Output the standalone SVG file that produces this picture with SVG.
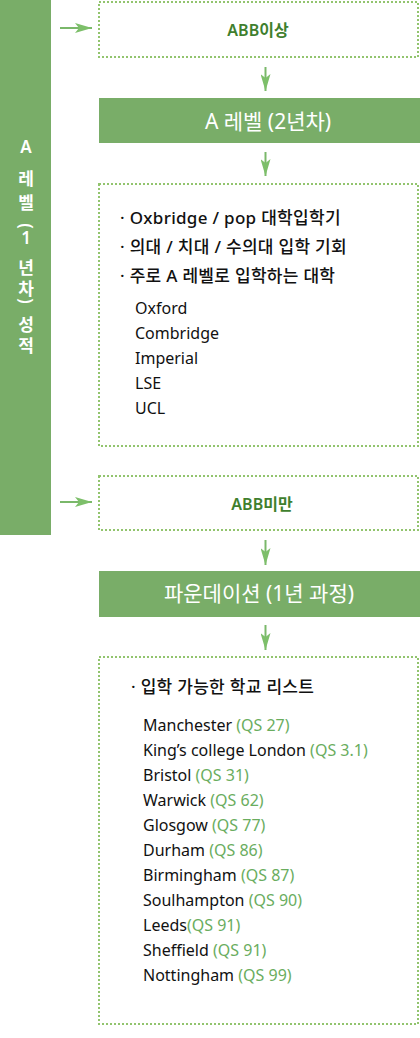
<svg xmlns="http://www.w3.org/2000/svg" width="420" height="1038" viewBox="0 0 420 1038">
<style>
.bar{fill:#79ad68}
.box{fill:#fff;stroke:#92c46e;stroke-width:2;stroke-dasharray:2 2}
.t{font-family:"Noto Sans","Noto Sans CJK KR",sans-serif}
.hd{font-size:21px;fill:#fff;text-anchor:middle}
.lab{font-size:16px;fill:#3f7f2e;text-anchor:middle;font-weight:600}
.bl{font-size:17px;fill:#111;font-weight:500;letter-spacing:0.3px}
.it{font-size:16px;fill:#111}
.qs{fill:#6aad5e}
.vt{font-size:17px;fill:#fff;text-anchor:middle;font-weight:600}
.cn{stroke:#7ab86a;stroke-width:2;fill:none}
</style>
<defs>
<marker id="ah" markerUnits="userSpaceOnUse" viewBox="0 0 17 10" refX="17" refY="5" markerWidth="17" markerHeight="10" orient="auto">
<path d="M0,0 L17,5 L0,10 L4,5 z" fill="#7dbf6a"/>
</marker>
</defs>

<g id="side">
<rect class="bar" x="0" y="0" width="51" height="535"/>
<g class="t vt" dominant-baseline="central">
<text x="26" y="146">A</text>
<text x="26" y="178">레</text>
<text x="26" y="202">벨</text>
<text transform="translate(26,226) rotate(90)">(</text>
<text x="26" y="237">1</text>
<text x="26" y="267">년</text>
<text x="26" y="288">차</text>
<text transform="translate(26,301) rotate(90)">)</text>
<text x="26" y="324">성</text>
<text x="26" y="345">적</text>
</g>
</g>

<g id="connectors">
<line class="cn" x1="60" y1="28" x2="92" y2="28" marker-end="url(#ah)"/>
<line class="cn" x1="60" y1="502" x2="92" y2="502" marker-end="url(#ah)"/>
<line class="cn" x1="265.5" y1="67" x2="265.5" y2="91" marker-end="url(#ah)"/>
<line class="cn" x1="265.5" y1="152" x2="265.5" y2="176" marker-end="url(#ah)"/>
<line class="cn" x1="265.5" y1="540" x2="265.5" y2="565" marker-end="url(#ah)"/>
<line class="cn" x1="265.5" y1="625" x2="265.5" y2="650" marker-end="url(#ah)"/>
</g>

<g id="abb-above">
<rect class="box" x="99" y="2" width="319" height="55"/>
<text class="t lab" x="258" y="36">ABB이상</text>
</g>

<g id="alevel2">
<rect class="bar" x="99" y="98" width="321" height="45"/>
<text class="t hd" x="268" y="129">A 레벨 (2년차)</text>
</g>

<g id="alevel-info">
<rect class="box" x="99" y="184" width="319" height="262"/>
<g class="t">
<text class="bl" x="120" y="224">· Oxbridge / pop 대학입학기</text>
<text class="bl" x="120" y="253">· 의대 / 치대 / 수의대 입학 기회</text>
<text class="bl" x="120" y="282">· 주로 A 레벨로 입학하는 대학</text>
<text class="it" x="135" y="314">Oxford</text>
<text class="it" x="135" y="339">Combridge</text>
<text class="it" x="135" y="364">Imperial</text>
<text class="it" x="135" y="389">LSE</text>
<text class="it" x="135" y="414">UCL</text>
</g>
</g>

<g id="abb-below">
<rect class="box" x="99" y="476" width="319" height="54"/>
<text class="t lab" x="262" y="510">ABB미만</text>
</g>

<g id="foundation">
<rect class="bar" x="99" y="571" width="321" height="46"/>
<text class="t hd" x="259" y="601">파운데이션 (1년 과정)</text>
</g>

<g id="foundation-info">
<rect class="box" x="99" y="657" width="319" height="367"/>
<g class="t">
<text class="bl" x="131" y="693">· 입학 가능한 학교 리스트</text>
<text class="it" x="143" y="731">Manchester <tspan class="qs">(QS 27)</tspan></text>
<text class="it" x="143" y="756">King’s college London <tspan class="qs">(QS 3.1)</tspan></text>
<text class="it" x="143" y="781">Bristol <tspan class="qs">(QS 31)</tspan></text>
<text class="it" x="143" y="806">Warwick <tspan class="qs">(QS 62)</tspan></text>
<text class="it" x="143" y="831">Glosgow <tspan class="qs">(QS 77)</tspan></text>
<text class="it" x="143" y="856">Durham <tspan class="qs">(QS 86)</tspan></text>
<text class="it" x="143" y="881">Birmingham <tspan class="qs">(QS 87)</tspan></text>
<text class="it" x="143" y="906">Soulhampton <tspan class="qs">(QS 90)</tspan></text>
<text class="it" x="143" y="931">Leeds<tspan class="qs">(QS 91)</tspan></text>
<text class="it" x="143" y="956">Sheffield <tspan class="qs">(QS 91)</tspan></text>
<text class="it" x="143" y="981">Nottingham <tspan class="qs">(QS 99)</tspan></text>
</g>
</g>
</svg>
